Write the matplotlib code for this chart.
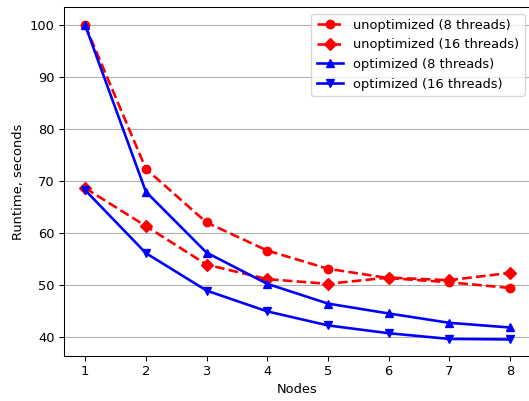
import matplotlib
matplotlib.use('Agg')
import matplotlib.pyplot as plt

nodes = [1, 2, 3, 4, 5, 6, 7, 8]
unopt_8 = [100.0, 72.4, 62.1, 56.7, 53.2, 51.4, 50.6, 49.5]
unopt_16 = [68.7, 61.4, 54.0, 51.2, 50.3, 51.5, 51.0, 52.4]
opt_8 = [100.0, 68.0, 56.3, 50.3, 46.5, 44.6, 42.8, 41.9]
opt_16 = [68.3, 56.2, 49.0, 45.0, 42.3, 40.8, 39.7, 39.6]

dpi = 94
fig = plt.figure(figsize=(529 / dpi, 401 / dpi), dpi=dpi)
ax = fig.add_axes([0.121, 0.112, 0.883, 0.870])

ax.plot(nodes, unopt_8, 'r--', marker='o', lw=2, ms=6.5, label='unoptimized (8 threads)')
ax.plot(nodes, unopt_16, 'r--', marker='D', lw=2, ms=6.5, label='unoptimized (16 threads)')
ax.plot(nodes, opt_8, 'b-', marker='^', lw=2, ms=6.5, label='optimized (8 threads)')
ax.plot(nodes, opt_16, 'b-', marker='v', lw=2, ms=6.5, label='optimized (16 threads)')

ax.set_ylim(36.4, 103.5)
ax.set_xlabel('Nodes')
ax.set_ylabel('Runtime, seconds')
ax.yaxis.grid(True)
ax.legend(loc='upper right')

fig.savefig('out.png', dpi=dpi)
